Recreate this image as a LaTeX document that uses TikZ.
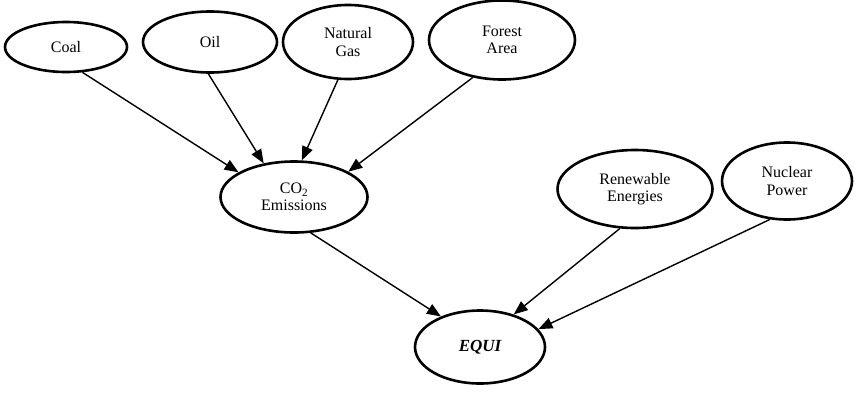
\documentclass[tikz,border=0pt]{standalone}
\usepackage{fontspec}
\setmainfont{Liberation Serif}
\usetikzlibrary{shapes.geometric,arrows.meta}
\begin{document}
\begin{tikzpicture}[x=1pt,y=-1pt,
  ell/.style={draw,line width=2.6pt,ellipse,inner sep=0pt,align=center,font=\fontsize{16}{17.5}\selectfont},
  arr/.style={line width=1.4pt,-{Triangle[length=14pt,width=11pt]}}]
\useasboundingbox (0,0) rectangle (858,394);
\node[ell,minimum width=122pt,minimum height=50pt] (coal) at (66,47) {Coal};
\node[ell,minimum width=134pt,minimum height=61pt] (oil) at (210,42) {Oil};
\node[ell,minimum width=130pt,minimum height=74pt] (gas) at (348,42) {Natural\\Gas};
\node[ell,minimum width=146pt,minimum height=79pt] (forest) at (502,40) {Forest\\Area};
\node[ell,minimum width=147pt,minimum height=71pt] (co2) at (294,197) {CO\textsubscript{2}\\Emissions};
\node[ell,minimum width=155pt,minimum height=78pt] (ren) at (635,189) {Renewable\\Energies};
\node[ell,minimum width=130pt,minimum height=77pt] (nuc) at (787,181) {Nuclear\\Power};
\node[ell,minimum width=130pt,minimum height=73pt,font=\fontsize{17}{20}\selectfont\bfseries\itshape] (equi) at (480,347) {EQUI};
\draw[arr] (coal.-57) -- (co2.156);
\draw[arr] (oil.-93) -- (co2.132);
\draw[arr] (gas.-105) -- (co2.78);
\draw[arr] (forest.-128) -- (co2.25);
\draw[arr] (co2.-65) -- (equi.142);
\draw[arr] (ren.-111) -- (equi.44);
\draw[arr] (nuc.-114) -- (equi.17);
\end{tikzpicture}
\end{document}
